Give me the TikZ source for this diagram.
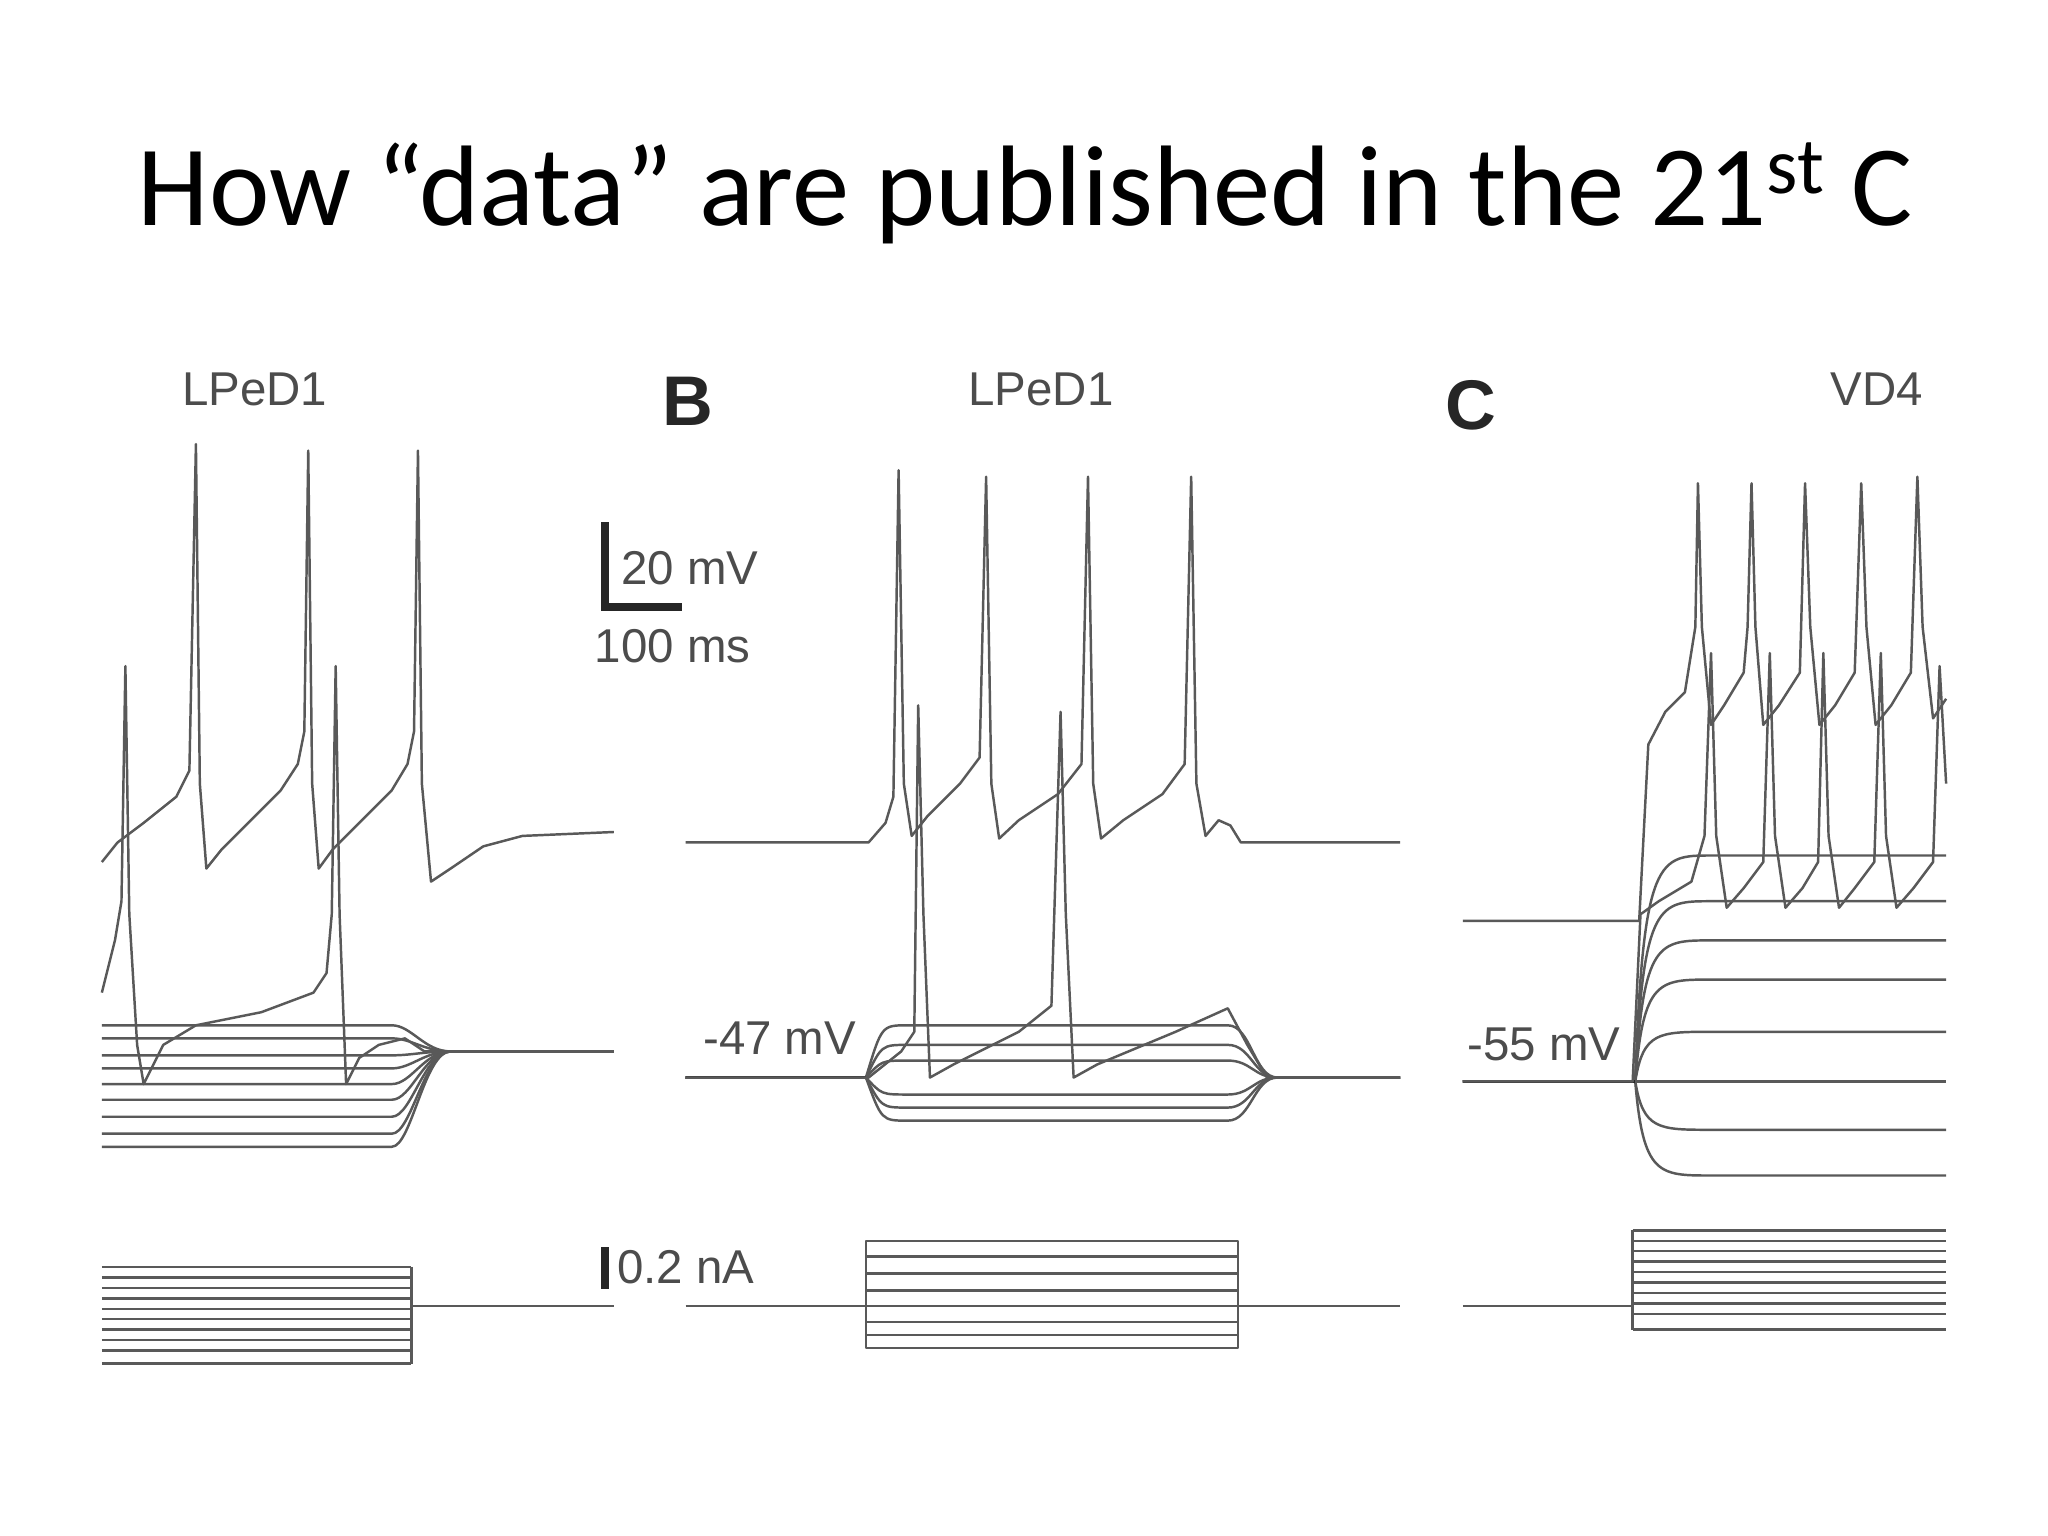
\documentclass[tikz,border=0pt]{standalone}
\usepackage{fontspec}
\setmainfont{Carlito}
\newfontfamily\lblfont{Liberation Sans}
\begin{document}
\begin{tikzpicture}[x=0.01306cm,y=-0.01306cm,
  tr/.style={draw=black!65,line width=0.7pt,line join=round},
  dk/.style={draw=black!85,line width=0.8pt},
  lbl/.style={font=\lblfont\fontsize{13.5}{13.5}\selectfont,text=black!70,inner sep=0pt},
  bigl/.style={font=\lblfont\bfseries\fontsize{20}{20}\selectfont,text=black!85,inner sep=0pt}]
\useasboundingbox[fill=white] (0,0) rectangle (1568,1176);
\node[font=\fontsize{32.6}{32.6}\selectfont,inner sep=0pt] (title) at (785,148) {How “data” are published in the 21\textsuperscript{st} C};
% labels
\node[lbl] (la) at (195,298) {LPeD1};
\node[bigl] (lb) at (527,307) {B};
\node[lbl] (lb2) at (797,298) {LPeD1};
\node[bigl] (lc) at (1126,310) {C};
\node[lbl] (lc2) at (1437,298) {VD4};
\node[lbl,anchor=west] (s1) at (475,435) {20 mV};
\node[lbl,anchor=west] (s2) at (455,495) {100 ms};
\node[lbl,anchor=west] (s3) at (472,970) {0.2 nA};
\node[lbl] (v1) at (597,795) {-47 mV};
\node[lbl] (v2) at (1182,800) {-55 mV};
\draw[black!85,line width=2.2pt] (463,400) -- (463,465) -- (522,465);
\draw[black!85,line width=2.2pt] (463,955) -- (463,987);
% Panel A
\foreach \y in {785,795,808,818,830,842,855,868,878}
  \draw[tr] (78,\y) -- (300,\y) .. controls (315,\y) and (325,805) .. (345,805) -- (470,805);
\draw[tr] (78,660) -- (90,645) -- (110,630) -- (135,610) -- (145,590) -- (150,340) -- (153,600) -- (158,665) -- (170,650) -- (195,625) -- (215,605) -- (228,585) -- (233,560) -- (236,345) -- (239,600) -- (244,665) -- (255,650) -- (280,625) -- (300,605) -- (312,585) -- (317,560) -- (320,345) -- (323,600) -- (330,675) -- (345,665) -- (370,648) -- (400,640) -- (470,637);
\draw[tr] (78,760) -- (88,720) -- (93,690) -- (96,510) -- (99,700) -- (105,800) -- (110,830) -- (125,800) -- (150,785) -- (200,775) -- (240,760) -- (250,745) -- (254,700) -- (257,510) -- (260,700) -- (265,830) -- (275,810) -- (290,800) -- (310,795) -- (325,805) -- (470,805);
\foreach \y in {970,978,986,994,1002,1010,1018,1026,1034,1044}
  \draw[tr] (78,\y) -- (315,\y);
\draw[tr] (315,970) -- (315,1044) (315,1000) -- (470,1000);
% Panel B
\foreach \y in {785,800,812,838,848,858}
  \draw[tr] (525,825) -- (663,825) .. controls (675,\y) .. (695,\y) -- (940,\y) .. controls (958,\y) and (960,825) .. (978,825) -- (1072,825);
\draw[dk] (525,825) -- (663,825);
\draw[tr] (525,645) -- (665,645) -- (678,630) -- (684,610) -- (688,360) -- (692,600) -- (698,640) -- (710,625) -- (735,600) -- (750,580) -- (755,365) -- (759,600) -- (765,642) -- (780,628) -- (810,608) -- (828,585) -- (833,365) -- (837,600) -- (843,642) -- (860,628) -- (890,608) -- (907,585) -- (912,365) -- (916,600) -- (923,640) -- (933,628) -- (942,632) -- (950,645) -- (1072,645);
\draw[tr] (525,825) -- (665,825) -- (690,805) -- (700,790) -- (703,540) -- (707,700) -- (712,825) -- (730,815) -- (780,790) -- (805,770) -- (812,545) -- (816,700) -- (822,825) -- (840,815) -- (900,790) -- (940,772) -- (955,800) -- (970,825) -- (1072,825);
\draw[tr] (663,950) rectangle (948,1032);
\foreach \y in {962,975,988,1000,1012,1022}
  \draw[tr] (663,\y) -- (948,\y);
\draw[tr] (525,1000) -- (663,1000) (948,1000) -- (1072,1000);
% Panel C
\foreach \y in {655,690,720,750,790,828,865,900}
  \draw[tr] (1120,828) -- (1252,828) .. controls (1258,\y) and (1270,\y) .. (1310,\y) -- (1490,\y);
\draw[dk] (1120,828) -- (1252,828);
\draw[tr] (1120,705) -- (1255,705) -- (1262,570) -- (1275,545) -- (1290,530) -- (1298,480) -- (1300,370) -- (1303,480) -- (1310,555) -- (1320,540) -- (1335,515) -- (1338,480) -- (1341,370) -- (1344,480) -- (1350,555) -- (1362,540) -- (1378,515) -- (1382,370) -- (1386,480) -- (1393,555) -- (1405,540) -- (1420,515) -- (1425,370) -- (1429,480) -- (1436,555) -- (1448,540) -- (1463,515) -- (1468,365) -- (1472,480) -- (1480,550) -- (1490,535);
\draw[tr] (1120,828) -- (1250,828) -- (1256,700) -- (1270,690) -- (1295,675) -- (1305,640) -- (1310,500) -- (1314,640) -- (1322,695) -- (1335,680) -- (1350,660) -- (1355,500) -- (1359,640) -- (1367,695) -- (1380,680) -- (1392,660) -- (1396,500) -- (1400,640) -- (1408,695) -- (1420,680) -- (1435,660) -- (1440,500) -- (1444,640) -- (1452,695) -- (1465,680) -- (1480,660) -- (1485,510) -- (1490,600);
\foreach \y in {942,950,958,966,974,982,990,998,1006,1018}
  \draw[tr] (1250,\y) -- (1490,\y);
\draw[tr] (1250,942) -- (1250,1018) (1120,1000) -- (1250,1000);
\end{tikzpicture}
\end{document}
